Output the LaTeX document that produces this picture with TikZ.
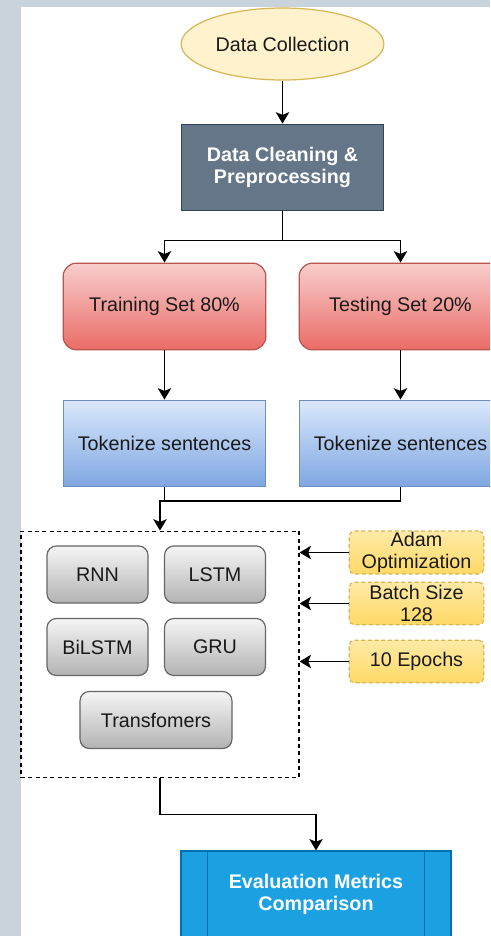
\documentclass[tikz,border=0pt]{standalone}
\usepackage{fontspec}
\setmainfont{Liberation Sans}
\usetikzlibrary{shapes.geometric,arrows.meta}

\definecolor{sidegray}{RGB}{200,211,219}
\definecolor{ylwfill}{HTML}{FFF2CC}
\definecolor{ylwtop}{HTML}{FFEAA6}
\definecolor{ylwdark}{HTML}{FFD966}
\definecolor{ylwline}{HTML}{D6B656}
\definecolor{slatefill}{HTML}{647687}
\definecolor{slateline}{HTML}{314354}
\definecolor{redtop}{HTML}{F8CECC}
\definecolor{redbot}{HTML}{EA6B66}
\definecolor{redline}{HTML}{B85450}
\definecolor{bluetop}{HTML}{DAE8FC}
\definecolor{bluebot}{HTML}{7EA6E0}
\definecolor{blueline}{HTML}{6C8EBF}
\definecolor{graytop}{HTML}{F5F5F5}
\definecolor{graybot}{HTML}{B3B3B3}
\definecolor{grayline}{HTML}{666666}
\definecolor{evalfill}{HTML}{1BA1E2}
\definecolor{evalline}{HTML}{006EAF}

\tikzset{
	every node/.style={font=\fontsize{14.8}{16.4}\selectfont, text=black!90, align=center},
	arr/.style={line width=1.4pt, -{Stealth[length=8.5pt,width=10pt,inset=2pt]}},
	wire/.style={line width=1.4pt},
	collect/.style={ellipse, draw=ylwline, fill=ylwfill, line width=0.9pt,
		minimum width=152pt, minimum height=54pt, inner sep=0pt},
	prep/.style={draw=slateline, fill=slatefill, line width=0.9pt, text=white,
		font=\fontsize{14.8}{16.4}\selectfont\bfseries,
		minimum width=152pt, minimum height=65pt},
	split/.style={draw=redline, top color=redtop, bottom color=redbot, line width=0.9pt,
		rounded corners=10pt, minimum width=152pt, minimum height=65pt},
	token/.style={draw=blueline, top color=bluetop, bottom color=bluebot, line width=0.9pt,
		minimum width=152pt, minimum height=65pt},
	model/.style={draw=grayline, top color=graytop, bottom color=graybot, line width=0.9pt,
		rounded corners=7pt, minimum width=75.75pt, minimum height=42.75pt},
	param/.style={draw=ylwline, top color=ylwtop, bottom color=ylwdark, line width=0.9pt,
		dash pattern=on 3pt off 2pt, rounded corners=4pt, inner sep=1pt,
		minimum width=101pt, minimum height=32pt},
	group/.style={draw=black, line width=0.9pt, dash pattern=on 3pt off 2.5pt,
		minimum width=208.5pt, minimum height=185pt, inner sep=0pt},
	evalbox/.style={draw=evalline, fill=evalfill, line width=0.9pt, text=white,
		font=\fontsize{14.8}{16.4}\selectfont\bfseries,
		minimum width=202.5pt, minimum height=65.25pt}
}

\begin{document}
\begin{tikzpicture}[x=0.75pt,y=-0.75pt]
	\useasboundingbox (0,0) rectangle (490,936);
	\clip (0,0) rectangle (490,936);
	\fill[sidegray] (0,0) rectangle (490,936);
	\fill[white] (21,7) rectangle (490,936);

	% top of the flow
	\node[collect] (collect) at (282.5,44) {Data Collection};
	\node[prep] (prep) at (282.5,167.5) {Data Cleaning \&\\Preprocessing};

	% split and tokenize
	\node[split] (train) at (164.5,306.5) {Training Set 80\%};
	\node[split] (test) at (400.5,306.5) {Testing Set 20\%};
	\node[token] (tok1) at (164.5,443.5) {Tokenize sentences};
	\node[token] (tok2) at (400.5,443.5) {Tokenize sentences};

	% models
	\node[group] (box) at (160,654.5) {};
	\node[model] (rnn) at (97.5,574.5) {RNN};
	\node[model] (lstm) at (215,574.5) {LSTM};
	\node[model] (bilstm) at (97.5,647) {BiLSTM};
	\node[model] (gru) at (215,647) {GRU};
	\node[model, minimum width=114pt] (trans) at (156,720) {Transfomers};

	% training settings
	\node[param] (adam) at (416.5,552.5) {Adam\\Optimization};
	\node[param] (batch) at (416.5,603.5) {Batch Size\\128};
	\node[param] (epochs) at (416.5,661.5) {10 Epochs};

	\node[evalbox] (eval) at (316,894.5) {Evaluation Metrics\\Comparison};
	\draw[evalline, line width=0.9pt] ([xshift=20.25pt]eval.north west) -- ([xshift=20.25pt]eval.south west);
	\draw[evalline, line width=0.9pt] ([xshift=-20.25pt]eval.north east) -- ([xshift=-20.25pt]eval.south east);

	% connectors
	\draw[arr] (collect) -- (prep);
	\draw[arr] (prep.south) -- ++(0,29) -| (train.north);
	\draw[arr] (prep.south) -- ++(0,29) -| (test.north);
	\draw[arr] (train) -- (tok1);
	\draw[arr] (test) -- (tok2);

	\path (box.north) ++(0,-30) coordinate (join);
	\draw[arr] (tok2.south) |- (join) -- (box.north);
	\draw[wire] (tok1.south) -- (tok1.south |- join);

	\draw[arr] (adam.west) -- (adam.west -| box.east);
	\draw[arr] (batch.west) -- (batch.west -| box.east);
	\draw[arr] (epochs.west) -- (epochs.west -| box.east);

	\draw[arr] (box.south) -- ++(0,36) -| (eval.north);
\end{tikzpicture}
\end{document}
